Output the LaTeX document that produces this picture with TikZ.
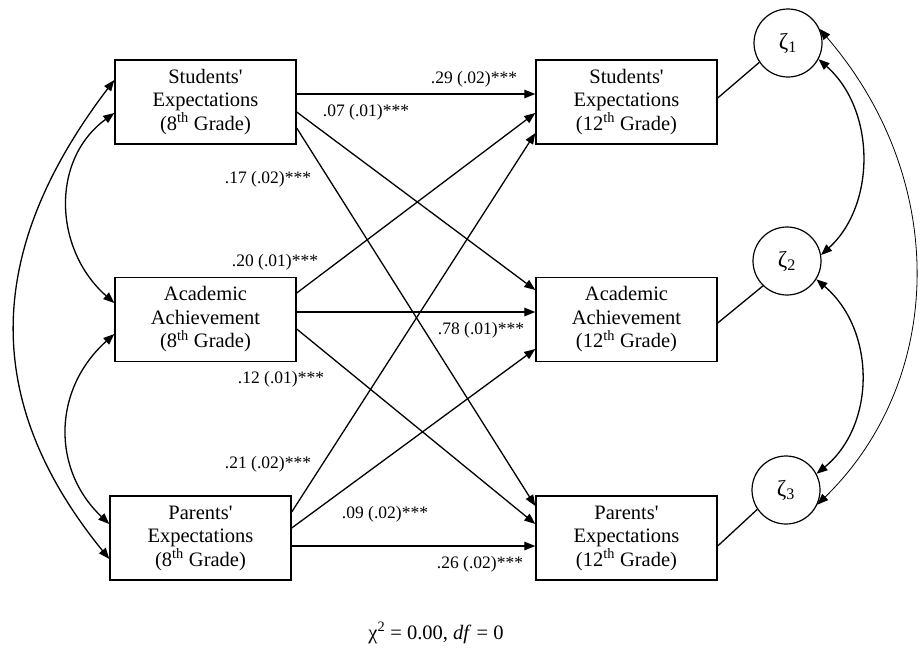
\documentclass[tikz,border=0pt]{standalone}
\usepackage{fontspec}
\setmainfont{Liberation Serif}
\usetikzlibrary{arrows.meta}
\tikzset{
varbox/.style={
  draw,
  line width=1.4pt,
  minimum width=181pt,
  minimum height=84pt,
  inner sep=0pt,
  align=center,
  font=\fontsize{20.5}{23.5}\selectfont
},
resid/.style={draw,circle,line width=1.2pt,minimum size=68pt,inner sep=0pt,font=\fontsize{23}{25}\selectfont},
effect/.style={line width=1.3pt,-{Triangle[length=11pt,width=8.5pt]}},
covar/.style={line width=1.3pt,{Triangle[length=11pt,width=8.5pt]}-{Triangle[length=11pt,width=8.5pt]}},
coef/.style={font=\fontsize{17.5}{20}\selectfont,inner sep=0pt},
%disturb/.style={line width=1.2pt},
}

\begin{document}
\begin{tikzpicture}[x=1pt,y=-1pt]
\useasboundingbox (0,0) rectangle (920,648);
% the variables
\node[varbox] (se8) at (205.5,102) {Students\textquotesingle\\Expectations\\(8\textsuperscript{th} Grade)};
\node[varbox] (aa8) at (205.5,319.5) {Academic\\Achievement\\(8\textsuperscript{th} Grade)};
\node[varbox] (pe8) at (200.5,538) {Parents\textquotesingle\\Expectations\\(8\textsuperscript{th} Grade)};
\node[varbox] (se12) at (626.5,102) {Students\textquotesingle\\Expectations\\(12\textsuperscript{th} Grade)};
\node[varbox] (aa12) at (626.5,319.5) {Academic\\Achievement\\(12\textsuperscript{th} Grade)};
\node[varbox] (pe12) at (626.5,538) {Parents\textquotesingle\\Expectations\\(12\textsuperscript{th} Grade)};
% the residuals
\node[resid] (z1) at (788,43) {ζ\textsubscript{1}};
\node[resid] (z2) at (787,261) {ζ\textsubscript{2}};
\node[resid] (z3) at (786,490) {ζ\textsubscript{3}};
% the paths
\draw[effect] ([yshift=8pt]se8.east) -- ([yshift=8pt]se12.west);
\draw[effect] ([yshift=-10pt]se8.east) -- ([yshift=29.5pt]aa12.west);
\draw[effect] ([yshift=-26pt]se8.east) -- ([yshift=32pt]pe12.west);
\draw[effect] ([yshift=26.5pt]aa8.east) -- ([yshift=-11pt]se12.west);
\draw[effect] ([yshift=7.5pt]aa8.east) -- ([yshift=7.5pt]aa12.west);
\draw[effect] ([yshift=-9.5pt]aa8.east) -- ([yshift=14pt]pe12.west);
\draw[effect] ([yshift=26pt]pe8.east) -- ([yshift=-31pt]se12.west);
\draw[effect] ([yshift=10pt]pe8.east) -- ([yshift=-29.5pt]aa12.west);
\draw[effect] ([yshift=-8pt]pe8.east) -- ([yshift=-8pt]pe12.west);
% the coefficients
\node[coef] (c29) at (474,79) {.29 (.02)***};
\node[coef] (c07) at (366,112) {.07 (.01)***};
\node[coef] (c17) at (268,179) {.17 (.02)***};
\node[coef] (c20) at (275,262) {.20 (.01)***};
\node[coef] (c78) at (481,330) {.78 (.01)***};
\node[coef] (c12) at (281,379) {.12 (.01)***};
\node[coef] (c21) at (268,464) {.21 (.02)***};
\node[coef] (c09) at (385,514) {.09 (.02)***};
\node[coef] (c26) at (480,564) {.26 (.02)***};
% the covariances
\draw[covar] ([yshift=22pt]se8.west) .. controls (-15,250) and (-20,400) .. ([yshift=-21pt]pe8.west);
\draw[covar] ([yshift=-11pt]se8.west) .. controls (50,160) and (54,250) .. ([yshift=16.5pt]aa8.west);
\draw[covar] ([yshift=-14.5pt]aa8.west) .. controls (52,390) and (52,470) .. ([yshift=14pt]pe8.west);
\draw[covar] (z1.-28) .. controls (876,110) and (876,205) .. (z2.10);
\draw[covar] (z2.-32) .. controls (876,330) and (876,425) .. (z3.28);
\draw[covar,line width=0.8pt] (z1.24) .. controls (950,180) and (945,380) .. (z3.-25);
% the disturbances
\draw[line width=1.3pt] ([yshift=4pt]se12.east) -- (z1.214);
\draw[line width=1.3pt] ([yshift=-3.5pt]aa12.east) -- (z2.226);
\draw[line width=1.3pt] ([yshift=-8pt]pe12.east) -- (z3.214);
% fit
\node[font=\fontsize{20.5}{24}\selectfont] (fit) at (436,633) {χ\textsuperscript{2} = 0.00, \textit{df} = 0};
\end{tikzpicture}
\end{document}
